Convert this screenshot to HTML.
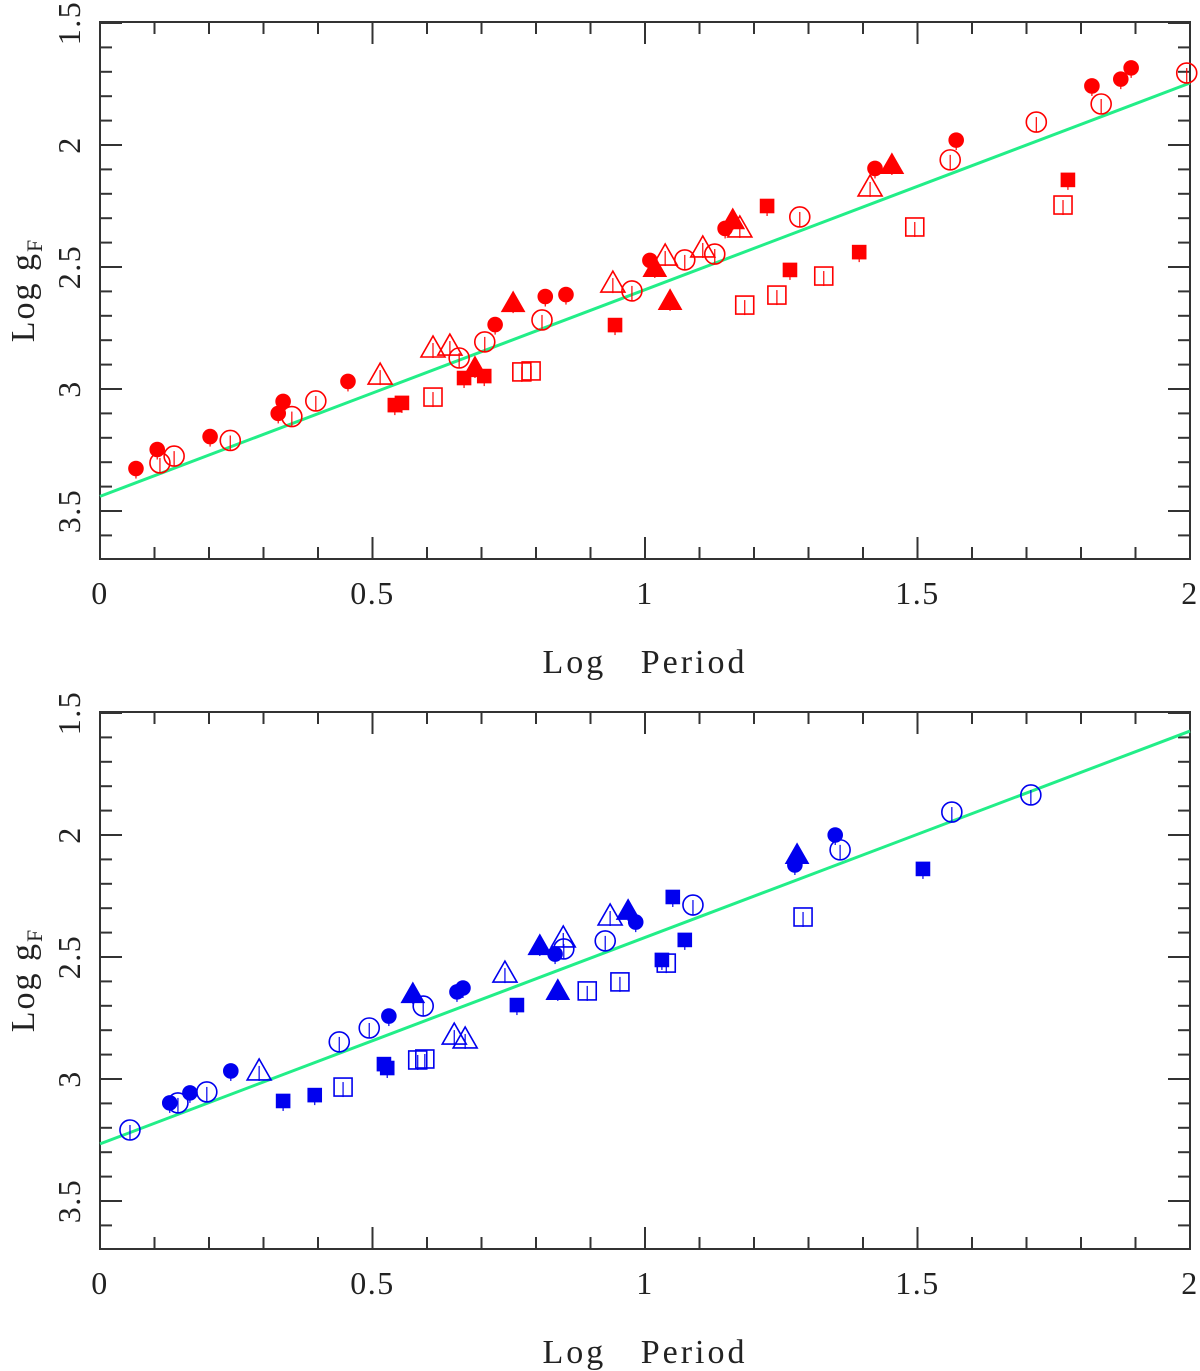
<!DOCTYPE html>
<html><head><meta charset="utf-8"><style>
html,body{margin:0;padding:0;background:#fff;}
svg{display:block;font-family:"Liberation Serif",serif;}
</style></head><body>
<svg id="chart" width="1200" height="1371" viewBox="0 0 1200 1371" xmlns="http://www.w3.org/2000/svg"></svg>
<script>
// Top panel data (logP, log g)
const topFilledCircle=[[0.066,3.326],[0.105,3.248],[0.202,3.195],[0.327,3.100],[0.336,3.051],[0.455,2.969],[0.725,2.736],[0.817,2.621],[0.855,2.613],[1.009,2.473],[1.147,2.342],[1.422,2.096],[1.571,1.980],[1.820,1.758],[1.873,1.730],[1.892,1.684]];
const topOpenCircle=[[0.110,3.303],[0.136,3.275],[0.239,3.211],[0.352,3.113],[0.396,3.049],[0.659,2.873],[0.706,2.807],[0.811,2.717],[0.976,2.598],[1.073,2.471],[1.128,2.447],[1.284,2.295],[1.560,2.061],[1.718,1.906],[1.837,1.832],[1.994,1.705]];
const topFilledTri=[[0.688,2.914],[0.758,2.648],[1.018,2.504],[1.046,2.639],[1.161,2.308],[1.453,2.082]];
const topOpenTri=[[0.514,2.943],[0.611,2.832],[0.642,2.824],[0.941,2.566],[1.037,2.455],[1.106,2.422],[1.174,2.340],[1.413,2.172]];
const topFilledSq=[[0.541,3.066],[0.554,3.057],[0.668,2.955],[0.705,2.947],[0.945,2.738],[1.224,2.250],[1.266,2.512],[1.393,2.439],[1.776,2.143]];
const topOpenSq=[[0.611,3.033],[0.774,2.930],[0.791,2.926],[1.183,2.656],[1.242,2.615],[1.328,2.537],[1.495,2.336],[1.767,2.246]];
const topFit=[3.44,1.746];
// Bottom panel data
const botFilledCircle=[[0.128,3.098],[0.165,3.057],[0.240,2.967],[0.530,2.742],[0.655,2.643],[0.666,2.627],[0.835,2.488],[0.983,2.357],[1.275,2.123],[1.349,2.000]];
const botOpenCircle=[[0.055,3.209],[0.143,3.098],[0.196,3.053],[0.439,2.848],[0.494,2.791],[0.593,2.701],[0.851,2.467],[0.927,2.434],[1.088,2.287],[1.358,2.061],[1.563,1.906],[1.708,1.836]];
const botFilledTri=[[0.574,2.652],[0.807,2.455],[0.840,2.639],[0.969,2.311],[1.279,2.082]];
const botOpenTri=[[0.292,2.967],[0.650,2.820],[0.670,2.836],[0.743,2.566],[0.850,2.422],[0.936,2.332]];
const botFilledSq=[[0.336,3.090],[0.394,3.066],[0.521,2.939],[0.527,2.955],[0.765,2.697],[1.031,2.512],[1.051,2.254],[1.073,2.430],[1.510,2.139]];
const botOpenSq=[[0.446,3.033],[0.583,2.922],[0.596,2.918],[0.894,2.639],[0.954,2.602],[1.039,2.525],[1.290,2.336]];
const botFit=[3.266,1.574];
const xTicks=["0","0.5","1","1.5","2"];
const yTicks=["1.5","2","2.5","3","3.5"];

const NS="http://www.w3.org/2000/svg";
const svg=document.getElementById('chart');
function mk(tag,attrs,parent){const e=document.createElementNS(NS,tag);for(const k in attrs)e.setAttribute(k,attrs[k]);(parent||svg).appendChild(e);return e;}
const X0=100,X1=1190;
function xs(v){return X0+(X1-X0)*v/2;}

function panel(top,name,color,d,fit){
  const bot=top+537;
  const ys=v=>top+1+(v-1.5)*244;
  const g=mk('g',{});
  
  
  const frame=mk('rect',{x:X0,y:top,width:X1-X0,height:bot-top,fill:'none',stroke:'#333',"stroke-width":2},g);
  
  
  for(let i=0;i<=20;i++){const x=xs(i*0.1),L=i%5==0?22:12;
    mk('line',{x1:x,y1:bot,x2:x,y2:bot-L,stroke:'#333',"stroke-width":2},g);
    mk('line',{x1:x,y1:top,x2:x,y2:top+L,stroke:'#333',"stroke-width":2},g);}
  for(let i=0;i<=22;i++){const v=1.5+i*0.1;const y=ys(v);if(y>bot)break;const L=i%5==0?22:12;
    mk('line',{x1:X0,y1:y,x2:X0+L,y2:y,stroke:'#333',"stroke-width":2},g);
    mk('line',{x1:X1,y1:y,x2:X1-L,y2:y,stroke:'#333',"stroke-width":2},g);}
  xTicks.forEach((t,i)=>{const e=mk('text',{x:xs(i*0.5),y:bot+45,"text-anchor":"middle","font-size":32,fill:'#222',"letter-spacing":"1.5"},g);e.textContent=t;
    });
  yTicks.forEach((t,i)=>{const y=ys(1.5+i*0.5);const e=mk('text',{x:80,y:y,"text-anchor":"middle","font-size":32,fill:'#222',"letter-spacing":"1.5",transform:`rotate(-90 80 ${y})`},g);e.textContent=t;
    });
  const xt=mk('text',{x:645,y:bot+114,"text-anchor":"middle","font-size":34,fill:'#222',"letter-spacing":"3"},g);
  xt.innerHTML='Log&#160;&#160;&#160;Period';
  
  const yc=top+268;
  const yt=mk('text',{x:34,y:yc,"text-anchor":"middle","font-size":34,fill:'#222',"letter-spacing":"2",transform:`rotate(-90 34 ${yc})`},g);
  yt.innerHTML='Log g<tspan font-size="22" dy="8">F</tspan>';
  
  const ln=mk('line',{x1:xs(0),y1:ys(fit[0]),x2:xs(2),y2:ys(fit[1]),stroke:'#22ee88',"stroke-width":3},g);
  
  const draw=(arr,kind,filled)=>arr.forEach(p=>{const cx=xs(p[0]),cy=ys(p[1]);let e;
    const f=filled?color:'none';
    if(kind=='c'){e=mk('circle',{cx,cy,r:filled?7:10,fill:f,stroke:color,"stroke-width":1.6},g);}
    else if(kind=='t'){const s=filled?11:12;e=mk('polygon',{points:`${cx},${cy-s} ${cx-s},${cy+s*0.75} ${cx+s},${cy+s*0.75}`,fill:f,stroke:color,"stroke-width":1.6},g);}
    else {const s=filled?6.5:9;e=mk('rect',{x:cx-s,y:cy-s,width:2*s,height:2*s,fill:f,stroke:color,"stroke-width":1.6},g);}
    
    mk('line',{x1:cx,y1:cy-5,x2:cx,y2:cy+10,stroke:color,"stroke-width":1.2},g);
  });
  draw(d[0],'c',true);draw(d[1],'c',false);draw(d[2],'t',true);draw(d[3],'t',false);draw(d[4],'s',true);draw(d[5],'s',false);
}
panel(22,'top-panel','#ff0000',[topFilledCircle,topOpenCircle,topFilledTri,topOpenTri,topFilledSq,topOpenSq],topFit);
panel(712,'bottom-panel','#0000ee',[botFilledCircle,botOpenCircle,botFilledTri,botOpenTri,botFilledSq,botOpenSq],botFit);
</script>
</body></html>
